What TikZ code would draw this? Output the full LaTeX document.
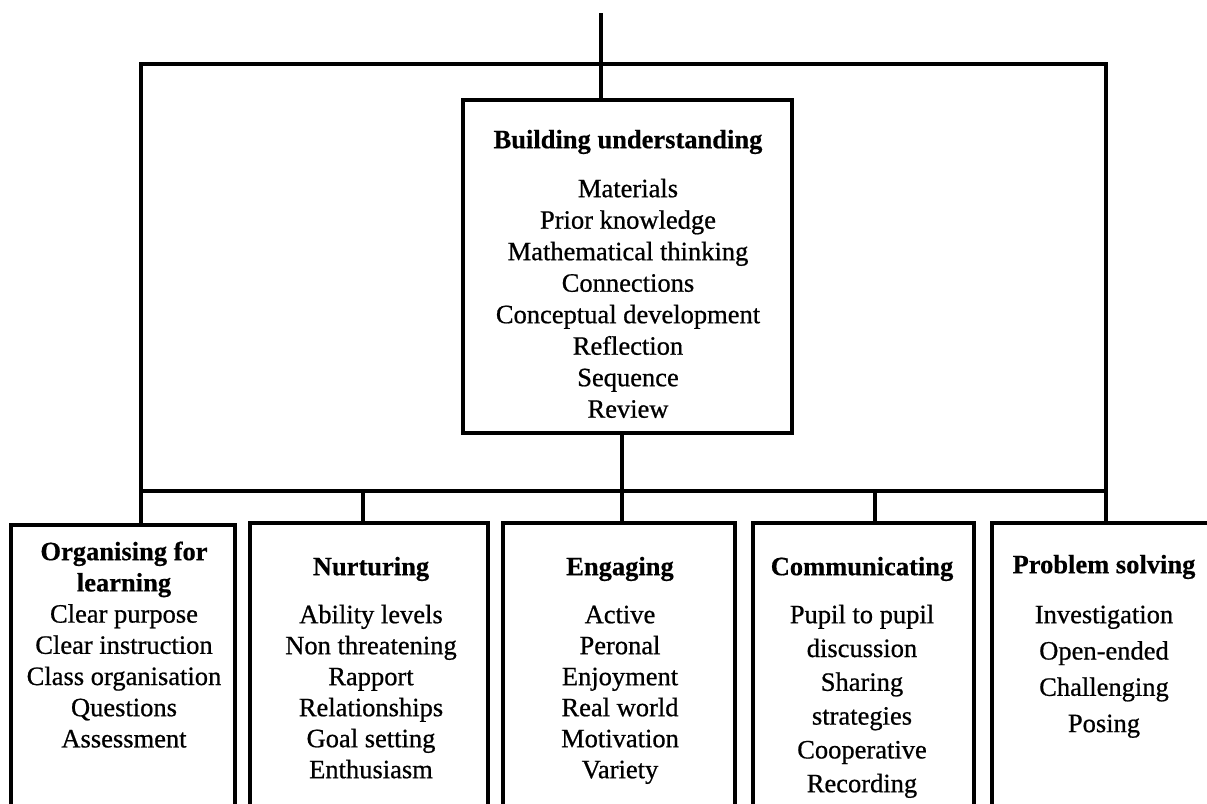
\documentclass[tikz,border=0pt]{standalone}
\usepackage{fontspec}
\setmainfont{Liberation Serif}[UprightFeatures={FakeBold=0.7}, BoldFeatures={FakeBold=0.5}]
\newcommand\fl{\rule{0pt}{20pt}}
\begin{document}
\begin{tikzpicture}[x=1pt,y=-1pt,
  frame/.style={draw, rectangle, inner sep=0pt, outer sep=0pt, line width=3.5pt},
  txt/.style={align=center, inner sep=0pt, anchor=north},
  conn/.style={line width=3.3pt}]
\useasboundingbox (0,0) rectangle (1207,803);
\clip (0,0) rectangle (1207,803);
% frames
\node[frame, anchor=north west, minimum width=329pt, minimum height=333pt] (bu) at (463,100) {};
\node[frame, anchor=north west, minimum width=224pt, minimum height=330pt] (b1) at (11,525) {};
\node[frame, anchor=north west, minimum width=238pt, minimum height=330pt] (b2) at (250,523) {};
\node[frame, anchor=north west, minimum width=232pt, minimum height=330pt] (b3) at (503,523) {};
\node[frame, anchor=north west, minimum width=221pt, minimum height=330pt] (b4) at (753,523) {};
\node[frame, anchor=north west, minimum width=248pt, minimum height=330pt] (b5) at (992,523) {};
% texts
\node[txt, font=\fontsize{26.5}{31.5}\selectfont] (t0) at (628,128)
  {\fl\textbf{Building understanding}\\[17.5pt] Materials\\ Prior knowledge\\ Mathematical thinking\\ Connections\\ Conceptual development\\ Reflection\\ Sequence\\ Review};
\node[txt, font=\fontsize{26.5}{31.2}\selectfont] (t1) at (124,540)
  {\fl\textbf{Organising for}\\ \textbf{learning}\\ Clear purpose\\ Clear instruction\\ Class organisation\\ Questions\\ Assessment};
\node[txt, font=\fontsize{26.5}{31}\selectfont] (t2) at (371,555)
  {\fl\textbf{Nurturing}\\[17pt] Ability levels\\ Non threatening\\ Rapport\\ Relationships\\ Goal setting\\ Enthusiasm};
\node[txt, font=\fontsize{26.5}{31}\selectfont] (t3) at (620,555)
  {\fl\textbf{Engaging}\\[17pt] Active\\ Peronal\\ Enjoyment\\ Real world\\ Motivation\\ Variety};
\node[txt, font=\fontsize{26.5}{33.8}\selectfont] (t4) at (862,555)
  {\fl\textbf{Communicating}\\[14.2pt] Pupil to pupil\\ discussion\\ Sharing\\ strategies\\ Cooperative\\ Recording};
\node[txt, font=\fontsize{26.5}{36.3}\selectfont] (t5) at (1104,553)
  {\fl\textbf{Problem solving}\\[13.7pt] Investigation\\ Open-ended\\ Challenging\\ Posing};
% connectors
\coordinate (top) at (601,13);
\coordinate (tl) at (141,64);
\coordinate (tr) at (1106,64);
\coordinate (hl) at (141,491);
\coordinate (hr) at (1106,491);
\coordinate (n2) at (363,491);
\coordinate (e3) at (622,491);
\coordinate (c4) at (875,491);
\draw[conn] (top) -- (top |- bu.north);
\draw[conn, line join=miter] (tl |- b1.north) -- (tl) -- (tr) -- (tr |- b5.north);
\draw[conn] (hl) -- (hr);
\draw[conn] (n2) -- (n2 |- b2.north);
\draw[conn] (e3 |- bu.south) -- (e3 |- b3.north);
\draw[conn] (c4) -- (c4 |- b4.north);
\end{tikzpicture}
\end{document}
